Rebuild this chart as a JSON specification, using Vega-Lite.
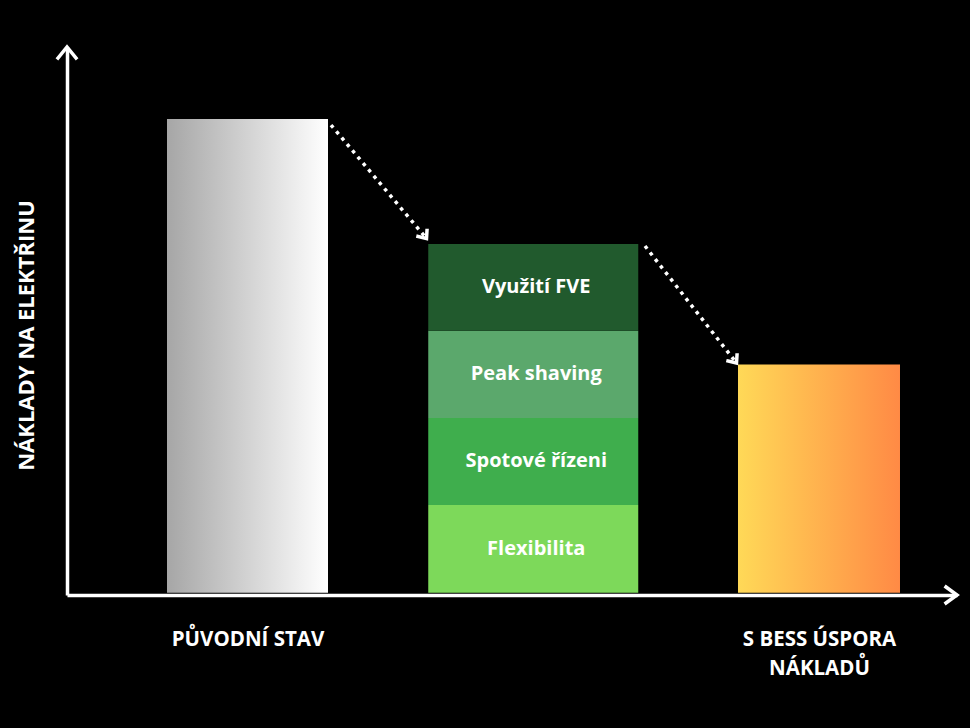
{
  "$schema": "https://vega.github.io/schema/vega-lite/v6.json",
  "width": 890,
  "height": 548,
  "autosize": {"type": "none"},
  "padding": {"left": 67, "top": 47, "right": 13, "bottom": 133},
  "background": "#000000",
  "config": {"view": {"stroke": null}, "font": "Open Sans"},
  "datasets": {
    "naklady": [
      {"stav": 1, "slozka": "Původní stav", "poradi": 1, "naklady": 100},
      {"stav": 2, "slozka": "Flexibilita", "poradi": 1, "naklady": 18.5},
      {"stav": 2, "slozka": "Spotové řízeni", "poradi": 2, "naklady": 18.4},
      {"stav": 2, "slozka": "Peak shaving", "poradi": 3, "naklady": 18.4},
      {"stav": 2, "slozka": "Využití FVE", "poradi": 4, "naklady": 18.3},
      {"stav": 3, "slozka": "S BESS", "poradi": 1, "naklady": 48.2}
    ],
    "sipky": [
      {"sipka": "s1", "bod": 1, "stav": 1.29221, "naklady": 98.73},
      {"sipka": "s1", "bod": 2, "stav": 1.62642, "naklady": 74.77},
      {"sipka": "s2", "bod": 1, "stav": 2.39108, "naklady": 73.19},
      {"sipka": "s2", "bod": 2, "stav": 2.71129, "naklady": 48.49}
    ],
    "hroty": [
      {"hrot": "h1", "bod": 1, "stav": 1.59668, "naklady": 75.2},
      {"hrot": "h1", "bod": 2, "stav": 1.62642, "naklady": 74.77},
      {"hrot": "h1", "bod": 3, "stav": 1.62817, "naklady": 76.46},
      {"hrot": "h2", "bod": 1, "stav": 2.68154, "naklady": 48.91},
      {"hrot": "h2", "bod": 2, "stav": 2.71129, "naklady": 48.49},
      {"hrot": "h2", "bod": 3, "stav": 2.71304, "naklady": 50.18},
      {"hrot": "osa_y", "bod": 1, "stav": 0.33683, "naklady": 112.88},
      {"hrot": "osa_y", "bod": 2, "stav": 0.36833, "naklady": 115.2},
      {"hrot": "osa_y", "bod": 3, "stav": 0.39983, "naklady": 112.88},
      {"hrot": "osa_x", "bod": 1, "stav": 3.44445, "naklady": 1.203},
      {"hrot": "osa_x", "bod": 2, "stav": 3.48294, "naklady": -0.486},
      {"hrot": "osa_x", "bod": 3, "stav": 3.44445, "naklady": -2.174}
    ]
  },
  "layer": [
    {
      "data": {"name": "naklady"},
      "transform": [{"filter": "datum.stav == 1"}],
      "mark": {
        "type": "bar",
        "width": 161,
        "color": {
          "gradient": "linear", "x1": 0, "x2": 1, "y1": 0, "y2": 0,
          "stops": [{"offset": 0, "color": "#a6a6a6"}, {"offset": 1, "color": "#ffffff"}]
        }
      },
      "encoding": {
        "x": {
          "field": "stav", "type": "quantitative",
          "scale": {"domain": [0.36833, 3.48294], "nice": false, "zero": false, "padding": 0},
          "axis": {
            "values": [1, 3],
            "labelExpr": "datum.value == 1 ? 'PŮVODNÍ STAV' : ['S BESS ÚSPORA', 'NÁKLADŮ']",
            "title": null,
            "grid": false,
            "ticks": false,
            "tickSize": 0,
            "domainColor": "#ffffff",
            "domainWidth": 3.5,
            "labelColor": "#ffffff",
            "labelFont": "Open Sans",
            "labelFontSize": 20.5,
            "labelFontWeight": "bold",
            "labelPadding": 34,
            "labelBaseline": "top",
            "labelLineHeight": 29.5,
            "labelAlign": "center",
            "labelFlush": false,
            "labelOverlap": false,
            "labelBound": false
          }
        },
        "y": {
          "field": "naklady", "type": "quantitative",
          "scale": {"domain": [-0.486, 115.2], "nice": false, "zero": false, "padding": 0},
          "axis": {
            "title": "NÁKLADY NA ELEKTŘINU",
            "grid": false,
            "ticks": false,
            "labels": false,
            "domainColor": "#ffffff",
            "domainWidth": 3.5,
            "titleColor": "#ffffff",
            "titleFont": "Open Sans",
            "titleFontSize": 22,
            "titleFontWeight": "bold",
            "titleAngle": 270,
            "titleX": -41,
            "titleY": 288,
            "titleAlign": "center",
            "titleBaseline": "middle"
          }
        }
      }
    },
    {
      "data": {"name": "naklady"},
      "transform": [{"filter": "datum.stav == 2"}],
      "mark": {"type": "bar", "width": 210},
      "encoding": {
        "x": {"field": "stav", "type": "quantitative", "scale": {"domain": [0.36833, 3.48294], "nice": false, "zero": false, "padding": 0}},
        "y": {"field": "naklady", "type": "quantitative", "stack": "zero", "scale": {"domain": [-0.486, 115.2], "nice": false, "zero": false, "padding": 0}},
        "order": {"field": "poradi", "type": "quantitative"},
        "color": {
          "field": "slozka", "type": "nominal",
          "scale": {
            "domain": ["Flexibilita", "Spotové řízeni", "Peak shaving", "Využití FVE"],
            "range": ["#7dd95a", "#3fae4d", "#5ba86c", "#215a2d"]
          },
          "legend": null
        }
      }
    },
    {
      "data": {"name": "naklady"},
      "transform": [{"filter": "datum.stav == 3"}],
      "mark": {
        "type": "bar",
        "width": 162,
        "color": {
          "gradient": "linear", "x1": 0, "x2": 1, "y1": 0, "y2": 0,
          "stops": [{"offset": 0, "color": "#ffd957"}, {"offset": 1, "color": "#ff8a45"}]
        }
      },
      "encoding": {
        "x": {"field": "stav", "type": "quantitative", "scale": {"domain": [0.36833, 3.48294], "nice": false, "zero": false, "padding": 0}},
        "y": {"field": "naklady", "type": "quantitative", "scale": {"domain": [-0.486, 115.2], "nice": false, "zero": false, "padding": 0}}
      }
    },
    {
      "data": {"name": "naklady"},
      "transform": [
        {"filter": "datum.stav == 2"},
        {"stack": "naklady", "groupby": ["stav"], "sort": [{"field": "poradi", "order": "ascending"}], "as": ["spodek", "vrch"]},
        {"calculate": "(datum.spodek + datum.vrch) / 2", "as": "stred"}
      ],
      "mark": {"type": "text", "color": "#ffffff", "font": "Open Sans", "fontSize": 20, "fontWeight": "bold", "align": "center", "baseline": "middle", "dx": 3},
      "encoding": {
        "x": {"field": "stav", "type": "quantitative", "scale": {"domain": [0.36833, 3.48294], "nice": false, "zero": false, "padding": 0}},
        "y": {"field": "stred", "type": "quantitative", "scale": {"domain": [-0.486, 115.2], "nice": false, "zero": false, "padding": 0}},
        "text": {"field": "slozka"}
      }
    },
    {
      "data": {"name": "sipky"},
      "mark": {"type": "line", "color": "#ffffff", "strokeWidth": 3.5, "strokeDash": [3.5, 4.8], "strokeCap": "butt"},
      "encoding": {
        "x": {"field": "stav", "type": "quantitative", "scale": {"domain": [0.36833, 3.48294], "nice": false, "zero": false, "padding": 0}},
        "y": {"field": "naklady", "type": "quantitative", "scale": {"domain": [-0.486, 115.2], "nice": false, "zero": false, "padding": 0}},
        "detail": {"field": "sipka"},
        "order": {"field": "bod", "type": "quantitative"}
      }
    },
    {
      "data": {"name": "hroty"},
      "mark": {"type": "line", "color": "#ffffff", "strokeWidth": 3.5, "strokeJoin": "miter", "strokeCap": "square"},
      "encoding": {
        "x": {"field": "stav", "type": "quantitative", "scale": {"domain": [0.36833, 3.48294], "nice": false, "zero": false, "padding": 0}},
        "y": {"field": "naklady", "type": "quantitative", "scale": {"domain": [-0.486, 115.2], "nice": false, "zero": false, "padding": 0}},
        "detail": {"field": "hrot"},
        "order": {"field": "bod", "type": "quantitative"}
      }
    }
  ]
}
